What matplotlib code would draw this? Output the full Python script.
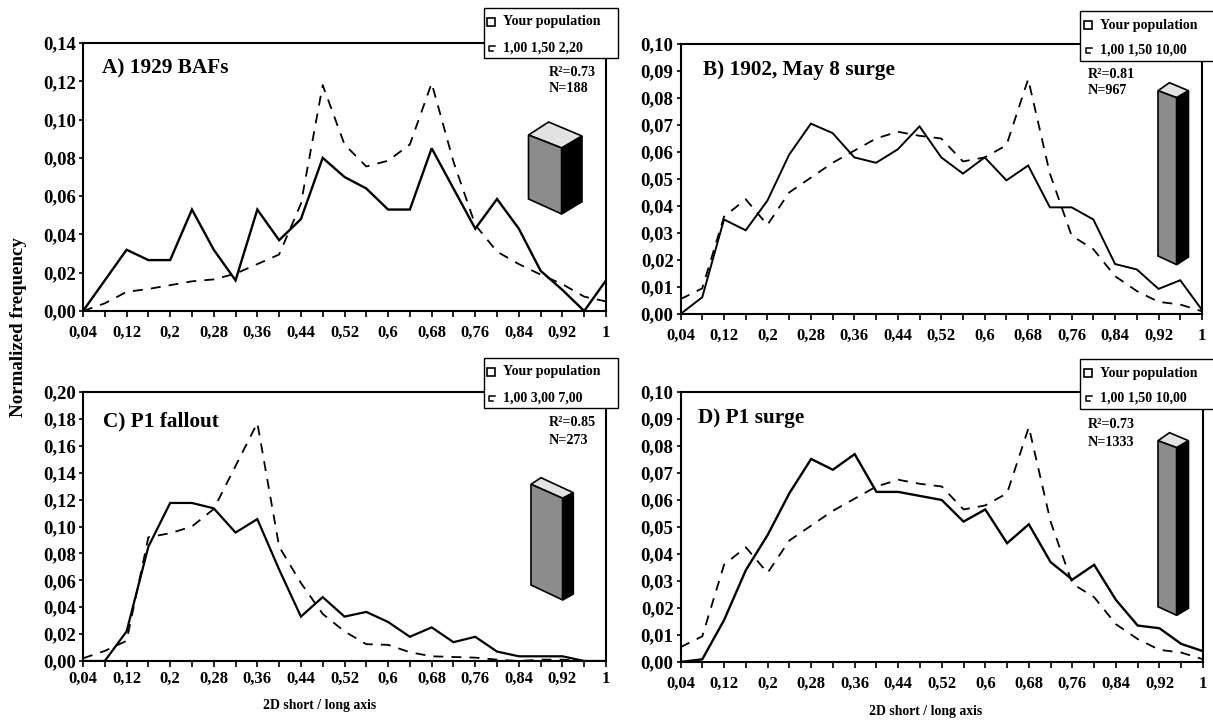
import matplotlib
matplotlib.use("Agg")
import matplotlib.pyplot as plt
from matplotlib.patches import Polygon, Rectangle

plt.rcParams['font.family'] = ['Liberation Serif', 'DejaVu Sans']
plt.rcParams['font.weight'] = 'bold'

W, H = 1213, 720

# Data
axis_ratio = [0.04, 0.08, 0.12, 0.16, 0.20, 0.24, 0.28, 0.32, 0.36, 0.40, 0.44, 0.48, 0.52,
              0.56, 0.60, 0.64, 0.68, 0.72, 0.76, 0.80, 0.84, 0.88, 0.92, 0.96, 1.00]
ratio_labels = ['0,04', '', '0,12', '', '0,2', '', '0,28', '', '0,36', '', '0,44', '', '0,52',
                '', '0,6', '', '0,68', '', '0,76', '', '0,84', '', '0,92', '', '1']

a_solid = [0, .016, .032, .0266, .0266, .053, .032, .016, .053, .037, .048, .080, .070,
           .064, .053, .053, .085, .064, .043, .0585, .043, .021, .011, 0, .016]
a_dash = [0, .004, .010, .0115, .0135, .0155, .0165, .0195, .0245, .0295, .056, .118, .087,
          .0755, .0785, .087, .119, .078, .045, .031, .0245, .019, .014, .0075, .005]
b_solid = [0, .0062, .035, .031, .042, .059, .0705, .067, .058, .056, .061, .0695, .058,
           .052, .058, .0495, .055, .0395, .0395, .035, .0185, .0165, .0093, .0125, .0015]
b_dash = [.0055, .0095, .036, .0425, .033, .045, .0505, .056, .0605, .065, .0675, .066, .065,
          .0565, .058, .0625, .087, .052, .029, .024, .014, .0085, .0045, .0035, .001]
c_solid = [0, 0, .022, .085, .1175, .1175, .1135, .0955, .1055, .068, .033, .0475, .033,
           .0365, .029, .018, .025, .014, .018, .007, .0035, .0035, .0035, 0, 0]
c_dash = [.002, .0075, .015, .092, .095, .100, .113, .145, .177, .085, .058, .035, .022,
          .0125, .012, .0065, .0035, .003, .0025, .001, 0, .001, .001, 0, 0]
d_solid = [0, .001, .0155, .034, .047, .0625, .0752, .0712, .077, .063, .063, .0615, .060,
           .052, .0565, .044, .051, .037, .0305, .036, .023, .0135, .0125, .0067, .004]
d_dash = b_dash

fig = plt.figure(figsize=(W / 100, H / 100), dpi=100)


def panel_axes(left, top, right, bottom):
    return fig.add_axes([left / W, 1 - bottom / H, (right - left) / W, (bottom - top) / H])


def draw_panel(box, solid, dash, ymax, ystep, solid_lw, xpad):
    ax = panel_axes(*box)
    ax.plot(axis_ratio, solid, color='black', lw=solid_lw, solid_joinstyle='miter')
    ax.plot(axis_ratio, dash, color='black', lw=1.3, dashes=(5.5, 4.5))
    ax.set_xlim(0.04, 1.0)
    ax.set_ylim(0, ymax)
    ax.set_xticks(axis_ratio)
    ax.set_xticklabels(ratio_labels, fontsize=12, fontweight='bold')
    yticks = [i * ystep for i in range(int(round(ymax / ystep)) + 1)]
    ax.set_yticks(yticks)
    ax.set_yticklabels([f"{v:.2f}".replace('.', ',') for v in yticks], fontsize=13.5, fontweight='bold')
    ax.tick_params(axis='x', length=4, width=1.2, pad=xpad)
    ax.tick_params(axis='y', length=3, width=1.2, pad=2)
    for s in ax.spines.values():
        s.set_linewidth(1.5)
    return ax


draw_panel((83, 43, 606, 311), a_solid, a_dash, 0.14, 0.02, 1.7, 6)
draw_panel((680.5, 44, 1202, 314), b_solid, b_dash, 0.10, 0.01, 1.4, 6)
draw_panel((83, 392, 606, 661), c_solid, c_dash, 0.20, 0.02, 1.6, 3)
draw_panel((680.5, 392, 1203, 662), d_solid, d_dash, 0.10, 0.01, 1.7, 6)

# Overlay in pixel coordinates for the notes, legend boxes and the little blocks
ov = fig.add_axes([0, 0, 1, 1], zorder=10)
ov.set_xlim(0, W)
ov.set_ylim(H, 0)
ov.axis('off')


def draw_legend(x0, y0, x1, y1, tx, ky, ty, label):
    ov.add_patch(Rectangle((x0, y0), x1 - x0, y1 - y0, fc='white', ec='black', lw=1.0))
    ov.add_patch(Rectangle((tx - 16, ty[0] - 4), 8, 8, fc='white', ec='black', lw=1.2))
    ov.plot([tx - 8, tx - 14, tx - 14, tx - 10],
            [ky - 2.5, ky - 2.5, ky + 2.5, ky + 2.5], color='black', lw=1.1)
    ov.text(tx, ty[0], 'Your population', fontsize=10.1, va='center', ha='left')
    ov.text(tx, ty[1], label, fontsize=10.1, va='center', ha='left')


def draw_block(tl, mid, tr, back, bl, bm, br):
    ov.add_patch(Polygon([tl, mid, tr, back], fc='#e2e2e2', ec='black', lw=1.2))
    ov.add_patch(Polygon([tl, mid, bm, bl], fc='#8c8c8c', ec='black', lw=1.2))
    ov.add_patch(Polygon([mid, tr, br, bm], fc='black', ec='black', lw=1.2))


draw_legend(484, 8, 618, 58, 503, 48, (22, 48), '1,00 1,50 2,20')
draw_legend(1080, 11, 1216, 61, 1100, 50, (25, 50), '1,00 1,50 10,00')
draw_legend(484, 358, 618, 408, 503, 398, (372, 398), '1,00 3,00 7,00')
draw_legend(1080, 359, 1216, 409, 1100, 398, (373, 398), '1,00 1,50 10,00')

draw_block((528.5, 135), (561.7, 148), (582, 136), (548.6, 122), (528.5, 199), (561.7, 214), (582, 201.7))
draw_block((1158, 90.7), (1176.7, 97.7), (1188.5, 90.7), (1169.5, 82.7), (1158, 256), (1176.7, 264.7), (1188.5, 257))
draw_block((531, 484.3), (562.7, 498.3), (573.3, 492.7), (541, 477.7), (531, 585), (562.7, 600), (573.3, 594))
draw_block((1158, 440.7), (1176.7, 447.7), (1188.5, 440.7), (1169.5, 432.7), (1158, 606.7), (1176.7, 615.3), (1188.5, 608.3))

# Panel titles
ov.text(102, 68, 'A) 1929 BAFs', fontsize=15.3, va='center')
ov.text(703, 70, 'B) 1902, May 8 surge', fontsize=15.3, va='center')
ov.text(103, 421, 'C) P1 fallout', fontsize=15.3, va='center')
ov.text(697.5, 418, 'D) P1 surge', fontsize=15.3, va='center')

# R2 and sample size
ov.text(549, 72, 'R²=0.73', fontsize=10.2, va='center')
ov.text(549, 88, 'N=188', fontsize=10.2, va='center')
ov.text(1088, 74, 'R²=0.81', fontsize=10.2, va='center')
ov.text(1088, 91, 'N=967', fontsize=10.2, va='center')
ov.text(549, 423, 'R²=0.85', fontsize=10.2, va='center')
ov.text(549, 440, 'N=273', fontsize=10.2, va='center')
ov.text(1088, 425, 'R²=0.73', fontsize=10.2, va='center')
ov.text(1088, 442, 'N=1333', fontsize=10.2, va='center')

ov.text(320, 705, '2D short / long axis', fontsize=9.9, ha='center', va='center')
ov.text(926, 711, '2D short / long axis', fontsize=9.9, ha='center', va='center')
ov.text(19, 327, 'Normalized frequency', fontsize=13.6, rotation=90, ha='center', va='center')

fig.savefig('out.png', dpi=100)
